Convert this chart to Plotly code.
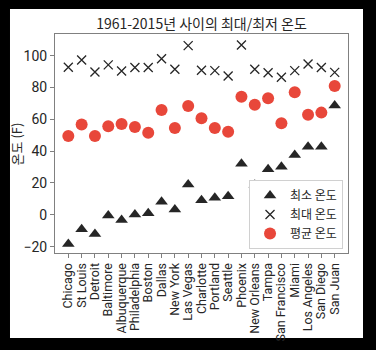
import plotly.graph_objects as go

cities = ["Chicago", "St Louis", "Detroit", "Baltimore", "Albuquerque", "Philadelphia",
          "Boston", "Dallas", "New York", "Las Vegas", "Charlotte", "Portland", "Seattle",
          "Phoenix", "New Orleans", "Tampa", "San Francisco", "Miami", "Los Angeles",
          "San Diego", "San Juan"]
min_temp = [-18.4, -9, -12.1, -0.4, -3.3, 0.2, 0.9, 8.2, 3.4, 19.1, 9.2, 10.7, 11.6,
            32.1, 18.9, 28.6, 30.2, 37.5, 42.8, 42.8, 68.6]
max_temp = [92.7, 97.3, 89.7, 94.2, 90.4, 92.5, 92.5, 98, 91.4, 106.3, 90.8, 90.6, 87.2,
            106.7, 91.4, 89.3, 86.4, 90.6, 94.8, 92.5, 89.5]
mean_temp = [49.5, 56.7, 49.5, 55.6, 57.0, 55.2, 51.6, 65.8, 54.5, 68.4, 60.6, 54.5, 52.2,
             74.2, 69.2, 73.2, 57.5, 77.0, 62.9, 64.2, 80.9]
y_ticks = [-20, 0, 20, 40, 60, 80, 100]

FONT = "Roboto, Noto Sans CJK KR, sans-serif"
KFONT = "Noto Sans CJK KR, sans-serif"
DARK = "#262626"

fig = go.Figure()
fig.add_trace(go.Scatter(x=cities, y=min_temp, mode="markers", name="최소 온도",
                         marker=dict(symbol="triangle-up", size=11, color=DARK)))
fig.add_trace(go.Scatter(x=cities, y=max_temp, mode="markers", name="최대 온도",
                         marker=dict(symbol="x-thin", size=9, color=DARK,
                                     line=dict(width=1.3, color=DARK))))
fig.add_trace(go.Scatter(x=cities, y=mean_temp, mode="markers", name="평균 온도",
                         marker=dict(symbol="circle", size=12, color="#E8473A")))

# white "paper" sheet on black background
fig.add_shape(type="rect", xref="paper", yref="paper",
              x0=-0.1536, x1=1.0512, y0=-0.388, y1=1.114,
              fillcolor="white", line=dict(width=0), layer="below")

# y-axis title
fig.add_annotation(text="온도 (F)", xref="paper", yref="paper", x=-0.13, y=0.5,
                   xanchor="center", yanchor="middle", textangle=-90, showarrow=False,
                   font=dict(family=KFONT, size=13, color=DARK))

fig.update_layout(
    width=376, height=350,
    margin=dict(l=55, r=28, t=34, b=97, autoexpand=False),
    paper_bgcolor="black", plot_bgcolor="white",
    font=dict(family=FONT, color=DARK, size=13),
    title=dict(text="1961-2015년 사이의 최대/최저 온도", x=0.5, xref="paper",
               y=1, yref="paper", yanchor="bottom", pad=dict(b=5),
               font=dict(family=KFONT, size=14, color=DARK)),
    showlegend=True,
    legend=dict(x=0.983, y=0.018, xanchor="right", yanchor="bottom",
                bgcolor="white", bordercolor="#d0d0d0", borderwidth=1,
                font=dict(family=KFONT, size=12, color=DARK),
                itemwidth=30, tracegroupgap=0),
    xaxis=dict(range=[-1, 21], showline=True, mirror=True, linecolor="#808080",
               linewidth=1, ticks="outside", ticklen=4, tickcolor="#808080",
               tickmode="linear", tick0=0, dtick=1, automargin=False,
               tickangle=-90, showgrid=False, zeroline=False,
               tickfont=dict(family=FONT, size=12.5, color=DARK)),
    yaxis=dict(range=[-24, 113.6], showline=True, mirror=True, linecolor="#808080",
               linewidth=1, ticks="outside", ticklen=4, tickcolor="#808080",
               tickvals=y_ticks, showgrid=False, zeroline=False, automargin=False,
               tickfont=dict(family=FONT, size=14, color=DARK)),
)

fig.write_html("out.html")
